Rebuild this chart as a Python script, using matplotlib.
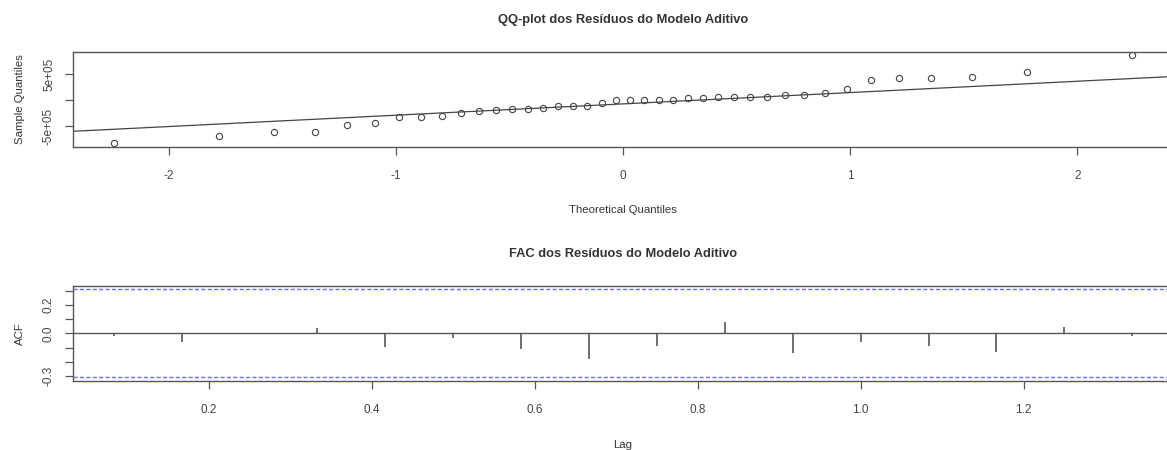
from statistics import NormalDist
import numpy as np
import matplotlib
matplotlib.use("Agg")
import matplotlib.pyplot as plt

plt.rcParams['font.family'] = ['Liberation Sans', 'DejaVu Sans']

# residuos ordenados do modelo aditivo (unidades de 1e5)
residuos = [-8.29, -6.93, -6.22, -6.03, -4.86, -4.36, -3.24, -3.22, -3.12, -2.54,
            -2.04, -1.85, -1.70, -1.66, -1.52, -1.19, -1.00, -1.00, -0.42, 0.16,
            0.16, 0.16, 0.16, 0.16, 0.36, 0.36, 0.55, 0.55, 0.55, 0.74,
            0.94, 0.94, 1.44, 2.21, 4.03, 4.23, 4.34, 4.61, 5.39, 8.73]

# autocorrelacoes, lags 1..16 (frequencia 12)
acf_vals = [-0.017, -0.063, 0.005, 0.037, -0.098, -0.031, -0.108, -0.182,
            -0.089, 0.077, -0.136, -0.061, -0.089, -0.131, 0.044, -0.019]
freq = 12

qq_yticks = [-5e5, 0, 5e5]
qq_ylabels = ['-5e+05', '', '5e+05']
acf_yticks = [-0.3, -0.2, -0.1, 0.0, 0.1, 0.2, 0.3]
acf_ylabels = ['-0.3', '', '', '0.0', '', '0.2', '']

fg = '#555555'
txt = '#333333'

y = np.sort(np.array(residuos) * 1e5)
n = len(y)
nd = NormalDist()
x = np.array([nd.inv_cdf((i - 0.5) / n) for i in range(1, n + 1)])

fig = plt.figure(figsize=(11.67, 4.5), dpi=100)


def r_style(ax):
    for s in ['left', 'top', 'bottom']:
        ax.spines[s].set_color(fg)
        ax.spines[s].set_linewidth(1)
    ax.spines['right'].set_visible(False)
    ax.tick_params(direction='out', length=6, width=0.9, color=fg,
                   labelcolor='#444444', labelsize=8.5)
    ax.tick_params(axis='x', pad=10.5)
    ax.tick_params(axis='y', pad=7)


def pad(lo, hi, f=0.04):
    d = (hi - lo) * f
    return lo - d, hi + d


# ---- QQ plot ----
ax1 = fig.add_axes([0.0626, 0.674, 0.9425, 0.2111])
ax1.plot(x, y, 'o', mfc='none', mec='#444444', ms=4.5, mew=0.8)
ax1.set_xlim(*pad(x.min(), x.max()))
ax1.set_ylim(*pad(y.min(), y.max()))
q1, q3 = np.percentile(y, [25, 75])
z1, z3 = nd.inv_cdf(0.25), nd.inv_cdf(0.75)
slope = (q3 - q1) / (z3 - z1)
inter = q1 - slope * z1
ax1.axline((0, inter), slope=slope, color='#444444', lw=0.9)
ax1.set_xticks([-2, -1, 0, 1, 2])
ax1.set_xticklabels(['-2', '-1', '0', '1', '2'])
ax1.set_yticks(qq_yticks)
ax1.set_yticklabels(qq_ylabels, rotation=90, va='center')
r_style(ax1)
ax1.set_title('QQ-plot dos Resíduos do Modelo Aditivo', fontsize=9.3,
              fontweight='bold', color=txt, pad=21)
ax1.set_xlabel('Theoretical Quantiles', fontsize=8.2, color=txt, labelpad=17)
ax1.set_ylabel('Sample Quantiles', fontsize=8.2, color=txt, labelpad=13)

# ---- FAC ----
ax2 = fig.add_axes([0.0626, 0.1533, 0.9425, 0.2118])
lags = np.arange(1, len(acf_vals) + 1) / freq
ax2.vlines(lags, 0, acf_vals, color='#555555', lw=1.2)
ax2.axhline(0, color='#555555', lw=1)
clim = 1.96 / np.sqrt(n)
for c in (clim, -clim):
    ax2.axhline(c, color='#6f6fff', lw=1, dashes=(3, 1.6))
ax2.set_xlim(*pad(lags.min(), lags.max()))
ax2.set_ylim(*pad(min(-clim, min(acf_vals)), max(clim, max(acf_vals))))
ax2.set_xticks([0.2, 0.4, 0.6, 0.8, 1.0, 1.2])
ax2.set_xticklabels(['0.2', '0.4', '0.6', '0.8', '1.0', '1.2'])
ax2.set_yticks(acf_yticks)
ax2.set_yticklabels(acf_ylabels, rotation=90, va='center')
r_style(ax2)
ax2.set_title('FAC dos Resíduos do Modelo Aditivo', fontsize=9.3,
              fontweight='bold', color=txt, pad=21)
ax2.set_xlabel('Lag', fontsize=8.2, color=txt, labelpad=17)
ax2.set_ylabel('ACF', fontsize=8.2, color=txt, labelpad=13)

fig.savefig('out.png', dpi=100)
